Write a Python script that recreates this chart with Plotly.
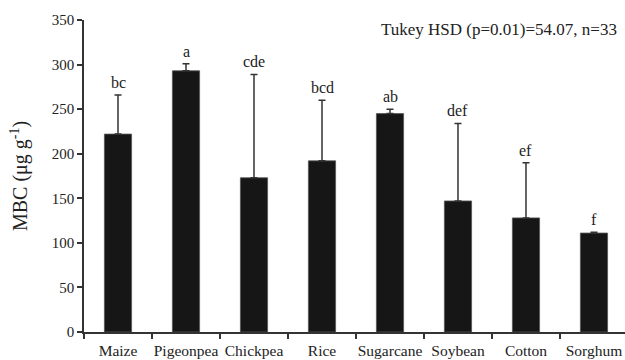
import plotly.graph_objects as go

crops = ["Maize", "Pigeonpea", "Chickpea", "Rice", "Sugarcane", "Soybean", "Cotton", "Sorghum"]
mbc = [222, 293, 173, 192, 245, 147, 128, 111]
err_up = [44, 8, 116, 68, 5, 87, 62, 1]
letters = ["bc", "a", "cde", "bcd", "ab", "def", "ef", "f"]
y_ticks = [0, 50, 100, 150, 200, 250, 300, 350]

SERIF = "Liberation Serif, Times New Roman, serif"

fig = go.Figure()
fig.add_trace(go.Bar(
    x=crops, y=mbc, width=0.4,
    marker=dict(color="#161616", line=dict(color="#555555", width=0.8)),
    error_y=dict(type="data", symmetric=False, array=err_up, arrayminus=[0] * len(err_up),
                 color="#333333", thickness=1.5, width=3.5),
    showlegend=False,
))

for c, v, e, t in zip(crops, mbc, err_up, letters):
    fig.add_annotation(x=c, y=v + e, text=t, showarrow=False, yanchor="bottom", yshift=2,
                       font=dict(family=SERIF, size=16, color="#222222"))

fig.add_annotation(xref="paper", yref="paper", x=1, y=1, xanchor="right", yanchor="middle",
                   xshift=-6, yshift=-9,
                   text="Tukey HSD (p=0.01)=54.07, n=33", showarrow=False,
                   font=dict(family=SERIF, size=17, color="#222222"))

fig.add_annotation(xref="paper", yref="paper", x=0, y=0.5, xanchor="center", yanchor="middle",
                   xshift=-65, textangle=-90,
                   text="MBC (μg g<sup>-1</sup>)", showarrow=False,
                   font=dict(family=SERIF, size=20, color="#222222"))

fig.update_layout(
    width=625, height=360,
    margin=dict(l=84, r=0, t=20, b=28),
    paper_bgcolor="white", plot_bgcolor="white",
    font=dict(family=SERIF, color="#222222"),
    bargap=0.6,
)
fig.update_xaxes(
    range=[-0.5, 7.456], tickson="boundaries", ticks="outside", ticklen=5,
    tickcolor="#333333", tickwidth=1.5, tickangle=0, automargin=False,
    ticklabelstandoff=4,
    showline=True, linecolor="#333333", linewidth=1.5, showgrid=False,
    tickfont=dict(family=SERIF, size=15.5, color="#222222"),
)
fig.update_yaxes(
    range=[0, 350], tickvals=y_ticks, ticks="outside", ticklen=5,
    tickcolor="#333333", tickwidth=1.5, automargin=False,
    showline=True, linecolor="#333333", linewidth=1.5, showgrid=False, zeroline=False,
    tickfont=dict(family=SERIF, size=15, color="#222222"),
)

fig.write_html("out.html", config={"displayModeBar": False},
               post_script="document.body.style.margin='0';document.body.style.overflow='hidden';")
